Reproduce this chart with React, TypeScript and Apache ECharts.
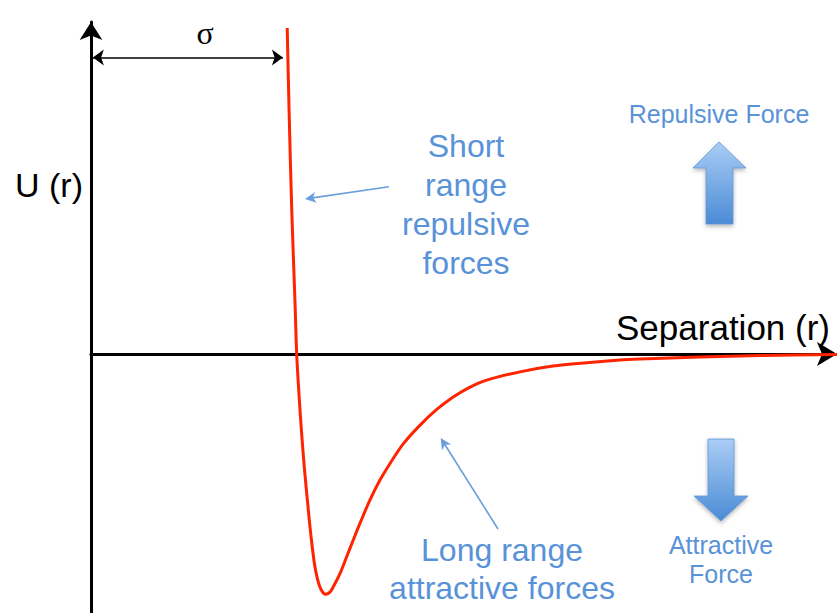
import React, { useEffect, useRef } from "react";
import * as echarts from "echarts";

// Lennard-Jones style potential, r in units of sigma, U in units of epsilon
const rValues = [
  0.954, 0.963, 0.976, 0.992, 1.0, 1.013, 1.024, 1.037, 1.052, 1.068, 1.089, 1.113,
  1.14, 1.162, 1.178, 1.211, 1.243, 1.275, 1.308, 1.356, 1.405, 1.454, 1.518, 1.6,
  1.681, 1.761, 1.843, 1.924, 2.086, 2.246, 2.411, 2.572, 2.669, 2.961, 3.252, 3.627,
];
const uValues = [
  1.353, 1.012, 0.598, 0.212, 0.0, -0.191, -0.328, -0.469, -0.606, -0.743, -0.884, -0.967,
  -0.997, -0.988, -0.966, -0.91, -0.841, -0.772, -0.702, -0.606, -0.523, -0.454, -0.373, -0.295,
  -0.23, -0.178, -0.137, -0.108, -0.074, -0.05, -0.036, -0.025, -0.021, -0.012, -0.006, -0.002,
];
const sigmaArrow = { from: 0.009, to: 0.933, u: 1.231 };
const axisLabels = { y: "U (r)", x: "Separation (r)", sigma: "σ" };
const noteShort = ["Short", "range", "repulsive", "forces"];
const noteLong = ["Long range", "attractive forces"];
const forceUp = "Repulsive Force";
const forceDown = ["Attractive", "Force"];

const BLUE = "#5892d8";
const SANS = "Liberation Sans, Arial, Helvetica, sans-serif";

function arrowHead(tx: number, ty: number, fx: number, fy: number, len = 11, half = 5.5, notch = 8) {
  const dx = tx - fx;
  const dy = ty - fy;
  const L = Math.hypot(dx, dy);
  const ux = dx / L;
  const uy = dy / L;
  const nx = -uy;
  const ny = ux;
  const bx = tx - ux * len;
  const by = ty - uy * len;
  return [
    [tx, ty],
    [bx + nx * half, by + ny * half],
    [tx - ux * notch, ty - uy * notch],
    [bx - nx * half, by - ny * half],
  ];
}

function annotationArrow(fx: number, fy: number, tx: number, ty: number) {
  return [
    {
      type: "line",
      shape: { x1: fx, y1: fy, x2: tx - (tx - fx) * 0.05, y2: ty - (ty - fy) * 0.05 },
      style: { stroke: "#6a9ddc", lineWidth: 1.6 },
    },
    {
      type: "polygon",
      shape: { points: arrowHead(tx, ty, fx, fy) },
      style: { fill: "#6a9ddc" },
    },
  ];
}

const blockGradient = () =>
  new echarts.graphic.LinearGradient(0, 0, 0, 1, [
    { offset: 0, color: "#aacdf5" },
    { offset: 1, color: "#4b8bd5" },
  ]);

export default function App() {
  const ref = useRef<HTMLDivElement>(null);
  useEffect(() => {
    if (!ref.current) return;
    const chart = echarts.init(ref.current, null, { renderer: "svg" });
    const data = rValues.map((r, i) => [r, uValues[i]]);
    chart.setOption({
      animation: false,
      backgroundColor: "#ffffff",
      grid: { left: 91, right: 0, top: 22, bottom: 0 },
      xAxis: {
        type: "value",
        min: 0,
        max: 3.627,
        axisLine: {
          show: true,
          onZero: true,
          symbol: ["none", "arrow"],
          symbolSize: [18, 20],
          lineStyle: { color: "#000", width: 3 },
        },
        axisTick: { show: false },
        axisLabel: { show: false },
        splitLine: { show: false },
      },
      yAxis: {
        type: "value",
        min: -1.0747,
        max: 1.378,
        axisLine: {
          show: true,
          symbol: ["none", "arrow"],
          symbolSize: [17, 18],
          lineStyle: { color: "#000", width: 3 },
        },
        axisTick: { show: false },
        axisLabel: { show: false },
        splitLine: { show: false },
      },
      series: [
        {
          type: "line",
          data,
          showSymbol: false,
          smooth: 0.3,
          lineStyle: { color: "#ff2400", width: 3 },
          z: 1,
          markLine: {
            silent: true,
            symbol: ["arrow", "arrow"],
            symbolSize: [12, 11],
            lineStyle: { color: "#000", width: 1.5, type: "solid" },
            label: { show: false },
            data: [
              [
                { coord: [sigmaArrow.from, sigmaArrow.u] },
                { coord: [sigmaArrow.to, sigmaArrow.u] },
              ],
            ],
          },
        },
      ],
      graphic: [
        {
          type: "text",
          x: 205,
          y: 33,
          style: {
            text: axisLabels.sigma,
            fontSize: 32,
            fontFamily: "Liberation Serif, Times New Roman, serif",
            fill: "#000",
            align: "center",
            verticalAlign: "middle",
          },
        },
        {
          type: "text",
          x: 15,
          y: 185,
          style: {
            text: axisLabels.y,
            fontSize: 34,
            fontFamily: SANS,
            fill: "#000",
            align: "left",
            verticalAlign: "middle",
          },
        },
        {
          type: "text",
          x: 830,
          y: 327,
          style: {
            text: axisLabels.x,
            fontSize: 35,
            fontFamily: SANS,
            fill: "#000",
            align: "right",
            verticalAlign: "middle",
          },
        },
        ...noteShort.map((t, i) => ({
          type: "text",
          x: 466,
          y: 146 + i * 39,
          style: { text: t, fontSize: 32, fontFamily: SANS, fill: BLUE, align: "center", verticalAlign: "middle" },
        })),
        ...noteLong.map((t, i) => ({
          type: "text",
          x: 502,
          y: 550 + i * 38,
          style: { text: t, fontSize: 32, fontFamily: SANS, fill: BLUE, align: "center", verticalAlign: "middle" },
        })),
        {
          type: "text",
          x: 719,
          y: 114,
          style: { text: forceUp, fontSize: 25, fontFamily: SANS, fill: BLUE, align: "center", verticalAlign: "middle" },
        },
        ...forceDown.map((t, i) => ({
          type: "text",
          x: 721,
          y: 545 + i * 29,
          style: { text: t, fontSize: 25, fontFamily: SANS, fill: BLUE, align: "center", verticalAlign: "middle" },
        })),
        ...annotationArrow(389, 186.7, 305, 199),
        ...annotationArrow(498, 529, 440.7, 438),
        {
          type: "polygon",
          shape: {
            points: [
              [719, 142], [746, 168], [733, 168], [733, 224], [706, 224], [706, 168], [693, 168],
            ],
          },
          style: {
            fill: blockGradient(),
            stroke: "#5f95d6",
            lineWidth: 0.8,
            shadowBlur: 4,
            shadowOffsetY: 2,
            shadowColor: "rgba(0,0,0,0.3)",
          },
        },
        {
          type: "polygon",
          shape: {
            points: [
              [708, 439], [734, 439], [734, 496], [748, 496], [721, 521], [694, 496], [708, 496],
            ],
          },
          style: {
            fill: blockGradient(),
            stroke: "#5f95d6",
            lineWidth: 0.8,
            shadowBlur: 4,
            shadowOffsetY: 2,
            shadowColor: "rgba(0,0,0,0.3)",
          },
        },
      ],
    });
    return () => chart.dispose();
  }, []);
  return (
    <div
      ref={ref}
      style={{ position: "fixed", left: 0, top: 0, width: 837, height: 613, background: "#fff" }}
    />
  );
}
